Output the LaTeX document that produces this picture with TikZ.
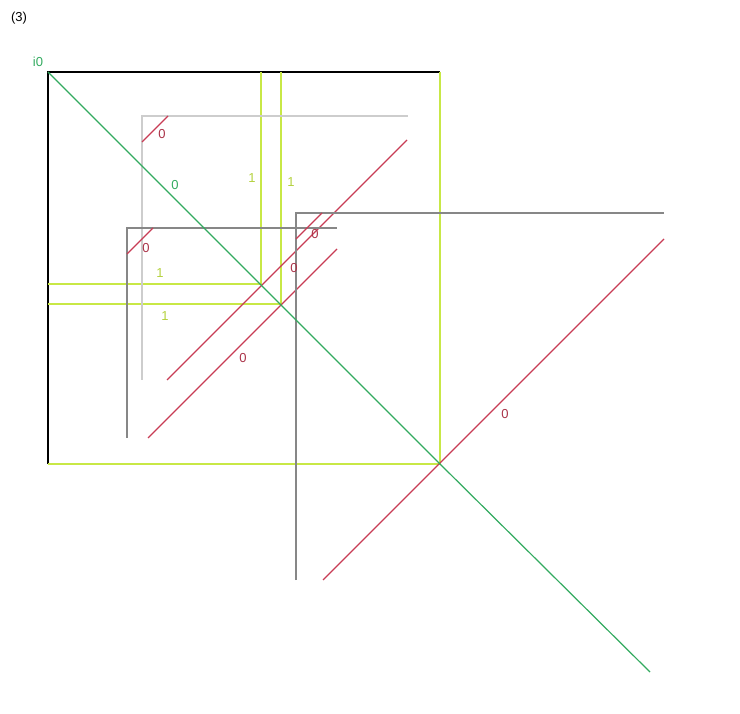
\documentclass[tikz,border=0pt]{standalone}
\usepackage{fontspec}
\setmainfont{Liberation Sans}
\usepackage{xcolor}
\definecolor{lgreen}{RGB}{50,170,95}
\definecolor{lred}{RGB}{200,60,85}
\definecolor{lyellow}{RGB}{200,232,70}
\definecolor{lgray}{RGB}{205,205,205}
\definecolor{dgray}{RGB}{135,135,135}
\tikzset{
  wire/.style={line width=1.2pt},
  thick wire/.style={line width=1.8pt},
  lbl/.style={font=\fontsize{13}{13}\selectfont, inner sep=0pt}
}
\begin{document}
\begin{tikzpicture}[x=1pt,y=-1pt]
\useasboundingbox (0,0) rectangle (740,714);

\node[lbl] (title) at (19,18) {(3)};
\node[lbl, text=lgreen] (i0) at (38,62) {i0};

\coordinate (o) at (48,72);
\coordinate (ot) at (440,72);
\coordinate (ob) at (48,464);
\coordinate (oc) at (440,464);
\draw[wire] (ob)--(o)--(ot);
\draw[thick wire, lyellow] (ot)--(oc)--(ob);

\coordinate (ya) at (261,284);
\coordinate (yb) at (281,304);
\draw[thick wire, lyellow] (261,72)--(ya)--(48,284);
\draw[thick wire, lyellow] (281,72)--(yb)--(48,304);

\begin{scope}
\draw[thick wire, lgray] (142,380)--(142,116)--(408,116);
\draw[wire, lred] (142,142)--(168,116);
\draw[wire, lred] (167,380)--(407,140);
\end{scope}

\begin{scope}
\draw[wire, dgray] (127,438)--(127,228)--(337,228);
\draw[wire, lred] (127,254)--(153,228);
\draw[wire, lred] (148,438)--(337,249);
\end{scope}

\begin{scope}
\draw[wire, dgray] (296,580)--(296,213)--(664,213);
\draw[wire, lred] (296,239)--(322,213);
\draw[wire, lred] (323,580)--(664,239);
\end{scope}

\coordinate (gend) at (650,672);
\draw[wire, lgreen] (o)--(oc)--(gend);

\node[lbl, text=lred!85!black] (r1) at (162,134) {0};
\node[lbl, text=lred!85!black] (r2) at (146,248) {0};
\node[lbl, text=lred!85!black] (r3) at (315,234) {0};
\node[lbl, text=lred!85!black] (r4) at (294,268) {0};
\node[lbl, text=lred!85!black] (r5) at (243,358) {0};
\node[lbl, text=lred!85!black] (r6) at (505,414) {0};
\node[lbl, text=lgreen] (g1) at (175,185) {0};
\node[lbl, text=lyellow!90!black] (y1) at (252,178) {1};
\node[lbl, text=lyellow!90!black] (y2) at (291,182) {1};
\node[lbl, text=lyellow!90!black] (y3) at (160,273) {1};
\node[lbl, text=lyellow!90!black] (y4) at (165,316) {1};

\end{tikzpicture}
\end{document}
